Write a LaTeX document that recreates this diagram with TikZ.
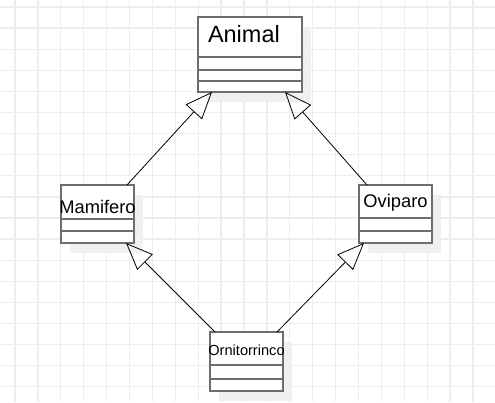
\documentclass[tikz,border=0pt]{standalone}
\usepackage{fontspec}
\setmainfont{Liberation Sans}
\usetikzlibrary{arrows.meta,positioning,backgrounds}
\definecolor{boxgray}{HTML}{6E6E6E}
\definecolor{gridgray}{HTML}{EDEDED}
\definecolor{shadowgray}{HTML}{F0F0F0}
\tikzset{
cname/.style = {draw=boxgray, fill=white, line width=2pt, rectangle, minimum width=73pt, inner sep=0pt, outer sep=0pt, anchor=north west},
cpart/.style = {draw=boxgray, fill=white, line width=2pt, rectangle, minimum width=73pt, inner sep=0pt, outer sep=0pt},
genline/.style = {->, black, line width=0.8pt},
gridline/.style = {gridgray, line width=1.3pt},
classshadow/.style = {fill=shadowgray}
}
\begin{document}
\begin{tikzpicture}[x=1pt, y=1pt, >={Triangle[open, length=27pt, width=22pt]}]
\useasboundingbox (0,0) rectangle (495,402);

% Animal
\node [cname, minimum width=104pt, minimum height=40pt, text width=84pt, inner xsep=10pt, align=left, text height=16.9pt, text depth=4.9pt, font=\fontsize{23.5}{28}\selectfont] (animal) at (198,385) {Animal};
\node [cpart, minimum width=104pt, minimum height=13pt, below=0pt of animal] (animal1) {};
\node [cpart, minimum width=104pt, minimum height=11pt, below=0pt of animal1] (animal2) {};
\node [cpart, minimum width=104pt, minimum height=11pt, below=0pt of animal2] (animal3) {};

% Mamifero
\node [cname, minimum height=34pt, text height=25.8pt, text depth=3.8pt, font=\fontsize{18.3}{22}\selectfont] (mamifero) at (61,217) {\makebox[0pt]{Mamifero}};
\node [cpart, minimum height=12pt, below=0pt of mamifero] (mamifero1) {};
\node [cpart, minimum height=12pt, below=0pt of mamifero1] (mamifero2) {};

% Oviparo
\node [cname, minimum height=33pt, text height=16.8pt, text depth=3.8pt, font=\fontsize{18.3}{22}\selectfont] (oviparo) at (359,217) {\makebox[0pt]{Oviparo}};
\node [cpart, minimum height=13pt, below=0pt of oviparo] (oviparo1) {};
\node [cpart, minimum height=12pt, below=0pt of oviparo1] (oviparo2) {};

% Ornitorrinco
\node [cname, minimum height=33pt, text height=16.1pt, text depth=3.1pt, font=\fontsize{14.6}{18}\selectfont] (ornitorrinco) at (210,70) {\makebox[0pt]{Ornitorrinco}};
\node [cpart, minimum height=14pt, below=0pt of ornitorrinco] (ornitorrinco1) {};
\node [cpart, minimum height=12pt, below=0pt of ornitorrinco1] (ornitorrinco2) {};

% generalisations
\draw [genline] ([xshift=-7pt]mamifero.north east) -- ([xshift=14pt]animal3.south west);
\draw [genline] ([xshift=8pt]oviparo.north west) -- ([xshift=-17pt]animal3.south east);
\draw [genline] ([xshift=5pt]ornitorrinco.north west) -- ([xshift=-8pt]mamifero2.south east);
\draw [genline] ([xshift=-6pt]ornitorrinco.north east) -- ([xshift=5pt]oviparo2.south west);

\begin{scope}[on background layer]
\fill [white] (0,0) rectangle (495,402);
\foreach \i in {0,...,21} \draw [gridline] ({15+22.9*\i},0) -- ({15+22.9*\i},402);
\foreach \j in {0,...,18} \draw [gridline] (0,{395-21.1*\j}) -- (495,{395-21.1*\j});
\fill [classshadow] ([shift={(9,-10)}]animal.north west) rectangle ([shift={(9,-10)}]animal3.south east);
\fill [classshadow] ([shift={(9,-10)}]mamifero.north west) rectangle ([shift={(9,-10)}]mamifero2.south east);
\fill [classshadow] ([shift={(9,-10)}]oviparo.north west) rectangle ([shift={(9,-10)}]oviparo2.south east);
\fill [classshadow] ([shift={(9,-10)}]ornitorrinco.north west) rectangle ([shift={(9,-10)}]ornitorrinco2.south east);
\end{scope}
\end{tikzpicture}
\end{document}
